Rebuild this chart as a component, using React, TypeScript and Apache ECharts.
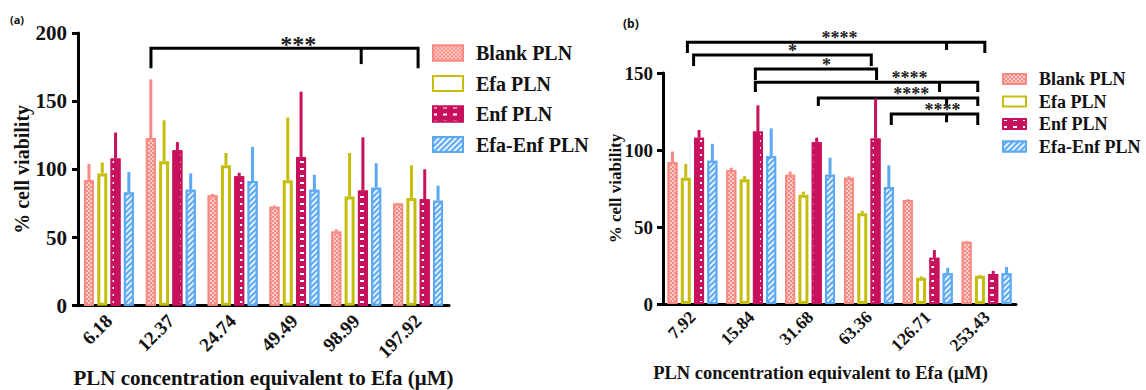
import React, { useEffect, useRef } from 'react';
import * as echarts from 'echarts';

const seriesNames = ['Blank PLN', 'Efa PLN', 'Enf PLN', 'Efa-Enf PLN'];
const categoriesA = ['6.18', '12.37', '24.74', '49.49', '98.99', '197.92'];
const categoriesB = ['7.92', '15.84', '31.68', '63.36', '126.71', '253.43'];

// Panel (a) means and upper error
const blankA = [92, 123, 81, 72.5, 54.5, 75];
const blankErrA = [12, 43, 1, 1, 1.5, 0.5];
const efaA = [97, 106, 103, 92, 80, 79];
const efaErrA = [8, 30, 9, 46, 32, 24];
const enfA = [108, 114, 95, 109, 84.5, 78];
const enfErrA = [19, 6, 2.5, 48, 39, 22];
const efaEnfA = [83, 85, 91.5, 85, 86.5, 77];
const efaEnfErrA = [15, 12, 25, 11, 18, 11];

// Panel (b)
const blankB = [92, 87, 84, 82, 67.5, 40.5];
const blankErrB = [7, 1.5, 2, 1, 0.5, 0.5];
const efaB = [82, 81, 71, 59, 17, 18.4];
const efaErrB = [9, 2, 2, 1.5, 1, 0.5];
const enfB = [108, 112, 105, 107.5, 30, 19.5];
const enfErrB = [5, 17, 3, 26, 5, 2];
const efaEnfB = [93, 96, 84, 76, 20, 20];
const efaEnfErrB = [11, 18, 11, 14, 3.5, 4];

const yTicksA = { min: 0, max: 200, interval: 50 };
const yTicksB = { min: 0, max: 150, interval: 50 };

// significance brackets: x in category positions, y in data units
const bracketsA = [
  { x1: 0.68, x2: 5.0, mid: 4.08, y: 188.8, drop: 174.2, midDrop: 177.2, label: '***', lx: 3.06 },
];
const bracketsB = [
  { x1: -0.085, x2: 4.97, mid: 4.32, y: 170, drop: 163, midDrop: 165, label: '****', lx: 2.5 },
  { x1: 0.02, x2: 3.04, mid: null, y: 161.7, drop: 154.5, midDrop: 0, label: '*', lx: 1.7 },
  { x1: 1.07, x2: 3.13, mid: null, y: 152.6, drop: 145.5, midDrop: 0, label: '*', lx: 2.28 },
  { x1: 1.07, x2: 4.85, mid: 4.2, y: 144, drop: 137.7, midDrop: 137.7, label: '****', lx: 3.69 },
  { x1: 2.14, x2: 4.85, mid: 4.32, y: 133.8, drop: 128.6, midDrop: 129, label: '****', lx: 3.72 },
  { x1: 3.38, x2: 4.85, mid: 4.32, y: 123.4, drop: 116.2, midDrop: 118, label: '****', lx: 4.25 },
];

const COLORS = ['#f98a83', '#c4bd0c', '#c8115d', '#5ba8f3'];
const SERIF = 'Liberation Serif';
const BAR_W = 10;
const BAR_GAP = 0.33;

function barStyle(i: number) {
  if (i === 0)
    return {
      color: COLORS[0],
      borderColor: COLORS[0],
      borderWidth: 2,
      decal: {
        symbol: 'rect',
        symbolSize: 1,
        color: 'rgba(255,255,255,0.6)',
        dashArrayX: [[2, 2], [0, 2, 2, 0]],
        dashArrayY: [2, 0],
      },
    };
  if (i === 1) return { color: '#ffffff', borderColor: COLORS[1], borderWidth: 3 };
  if (i === 2)
    return {
      color: COLORS[2],
      borderColor: COLORS[2],
      borderWidth: 2,
      decal: {
        symbol: 'rect',
        symbolSize: 1,
        color: '#ffffff',
        dashArrayX: [4, 6],
        dashArrayY: [1.5, 4.5],
      },
    };
  return {
    color: COLORS[3],
    borderColor: COLORS[3],
    borderWidth: 2,
    decal: {
      symbol: 'rect',
      symbolSize: 1,
      color: 'rgba(255,255,255,0.85)',
      dashArrayX: [1, 0],
      dashArrayY: [2, 2],
      rotation: -Math.PI / 4,
    },
  };
}

function makeSeries(vals: number[][], errs: number[][]) {
  const out: any[] = [];
  vals.forEach((v, i) => {
    out.push({
      type: 'bar',
      name: seriesNames[i],
      data: v,
      barWidth: BAR_W,
      barGap: `${BAR_GAP * 100}%`,
      itemStyle: barStyle(i),
      z: 2,
    });
  });
  errs.forEach((e, i) => {
    const off = (i - 1.5) * BAR_W * (1 + BAR_GAP);
    out.push({
      type: 'custom',
      name: `err-${i}`,
      data: vals[i].map((v, k) => [k, v, e[k]]),
      encode: { x: 0, y: 1 },
      z: 1,
      renderItem: (params: any, api: any) => {
        const c = api.value(0);
        const v = api.value(1);
        const er = api.value(2);
        const p0 = api.coord([c, v]);
        const p1 = api.coord([c, v + er]);
        const x = p0[0] + off;
        return {
          type: 'line',
          shape: { x1: x, y1: p0[1], x2: x, y2: p1[1] },
          style: { stroke: COLORS[i], lineWidth: 3 },
        };
      },
    });
  });
  return out;
}

const panelA = {
  cats: categoriesA,
  vals: [blankA, efaA, enfA, efaEnfA],
  errs: [blankErrA, efaErrA, enfErrA, efaEnfErrA],
  yTicks: yTicksA,
  brackets: bracketsA,
  left: 0,
  width: 590,
  grid: { left: 78, top: 33, width: 371, height: 272.7 },
  legend: { left: 427, top: 38, itemWidth: 30, itemHeight: 15, itemGap: 10.5, fontSize: 20 },
  xFont: 19, xMargin: 12, xNameGap: 62, xNameFont: 21, xNamePad: [0, 0, 0, 0],
  yFont: 21, yMargin: 11, yNameGap: 46, yNameFont: 20,
  starFont: 24,
  tag: { text: '(a)', x: 10, y: 14, fontSize: 11 },
};

const panelB = {
  cats: categoriesB,
  vals: [blankB, efaB, enfB, efaEnfB],
  errs: [blankErrB, efaErrB, enfErrB, efaEnfErrB],
  yTicks: yTicksB,
  brackets: bracketsB,
  left: 590,
  width: 556,
  grid: { left: 73, top: 73, width: 353, height: 231 },
  legend: { left: 407, top: 65, itemWidth: 23, itemHeight: 10, itemGap: 4.5, fontSize: 18 },
  xFont: 17.5, xMargin: 10, xNameGap: 59, xNameFont: 18.5, xNamePad: [0, 38, 0, 0],
  yFont: 19, yMargin: 10, yNameGap: 39, yNameFont: 17,
  starFont: 18,
  tag: { text: '(b)', x: 33, y: 17, fontSize: 12 },
};

function buildOption(p: any) {
  return {
    animation: false,
    backgroundColor: '#fff',
    grid: { ...p.grid, outerBoundsMode: 'none', containLabel: false },
    xAxis: {
      type: 'category',
      data: p.cats,
      axisLine: { lineStyle: { color: '#000', width: 3 } },
      axisTick: { alignWithLabel: true, length: 7, lineStyle: { color: '#000', width: 3 } },
      axisLabel: {
        interval: 0,
        rotate: 45,
        fontFamily: SERIF,
        fontWeight: 'bold',
        fontSize: p.xFont,
        color: '#111',
        margin: p.xMargin,
      },
      name: 'PLN concentration equivalent to Efa (μM)',
      nameLocation: 'middle',
      nameGap: p.xNameGap,
      nameMoveOverlap: false,
      nameTextStyle: {
        fontFamily: SERIF,
        fontWeight: 'bold',
        fontSize: p.xNameFont,
        color: '#111',
        padding: p.xNamePad,
      },
    },
    yAxis: {
      type: 'value',
      min: p.yTicks.min,
      max: p.yTicks.max,
      interval: p.yTicks.interval,
      splitLine: { show: false },
      axisLine: { show: true, lineStyle: { color: '#000', width: 3 } },
      axisTick: { show: true, length: 6, lineStyle: { color: '#000', width: 3 } },
      axisLabel: {
        fontFamily: SERIF,
        fontWeight: 'bold',
        fontSize: p.yFont,
        color: '#111',
        margin: p.yMargin,
      },
      name: '% cell viability',
      nameLocation: 'middle',
      nameGap: p.yNameGap,
      nameMoveOverlap: false,
      nameTextStyle: {
        fontFamily: SERIF,
        fontWeight: 'bold',
        fontSize: p.yNameFont,
        color: '#111',
      },
    },
    legend: {
      orient: 'vertical',
      icon: 'rect',
      data: seriesNames,
      selectedMode: false,
      left: p.legend.left,
      top: p.legend.top,
      itemWidth: p.legend.itemWidth,
      itemHeight: p.legend.itemHeight,
      itemGap: p.legend.itemGap,
      textStyle: {
        fontFamily: SERIF,
        fontWeight: 'bold',
        fontSize: p.legend.fontSize,
        color: '#111',
        lineHeight: p.legend.fontSize,
        padding: [0, 0, 0, 8],
      },
    },
    series: makeSeries(p.vals, p.errs),
  };
}

function buildGraphics(chart: any, p: any) {
  const els: any[] = [];
  const c0 = chart.convertToPixel({ xAxisIndex: 0 }, 0) as number;
  const c1 = chart.convertToPixel({ xAxisIndex: 0 }, 1) as number;
  const band = c1 - c0;
  const px = (x: number) => c0 + x * band;
  const py = (y: number) => chart.convertToPixel({ yAxisIndex: 0 }, y) as number;
  p.brackets.forEach((b: any) => {
    const X1 = px(b.x1), X2 = px(b.x2), Y = py(b.y), D = py(b.drop);
    els.push({
      type: 'polyline',
      shape: { points: [[X1, D], [X1, Y], [X2, Y], [X2, D]] },
      style: { stroke: '#000', lineWidth: 3, fill: null },
    });
    if (b.mid !== null) {
      const XM = px(b.mid);
      els.push({
        type: 'line',
        shape: { x1: XM, y1: Y, x2: XM, y2: py(b.midDrop) },
        style: { stroke: '#000', lineWidth: 3 },
      });
    }
    els.push({
      type: 'text',
      x: px(b.lx),
      y: Y - 4,
      style: {
        text: b.label,
        fontFamily: SERIF,
        fontWeight: 'bold',
        fontSize: p.starFont,
        fill: '#222',
        align: 'center',
        verticalAlign: 'middle',
      },
    });
  });
  els.push({
    type: 'text',
    x: p.tag.x,
    y: p.tag.y,
    style: { text: p.tag.text, fontFamily: 'Noto Sans', fontWeight: 'bold', fontSize: p.tag.fontSize, fill: '#111' },
  });
  return els;
}

function Panel({ p }: { p: any }) {
  const ref = useRef<HTMLDivElement>(null);
  useEffect(() => {
    const chart = echarts.init(ref.current!, null, { renderer: 'svg' });
    chart.setOption(buildOption(p));
    chart.setOption({ graphic: buildGraphics(chart, p) });
    return () => chart.dispose();
  }, []);
  return (
    <div
      ref={ref}
      style={{ position: 'absolute', left: p.left, top: 0, width: p.width, height: 390 }}
    />
  );
}

export default function App() {
  useEffect(() => {
    document.body.style.margin = '0';
  }, []);
  return (
    <div style={{ position: 'relative', width: 1146, height: 390, background: '#fff' }}>
      <Panel p={panelA} />
      <Panel p={panelB} />
    </div>
  );
}
